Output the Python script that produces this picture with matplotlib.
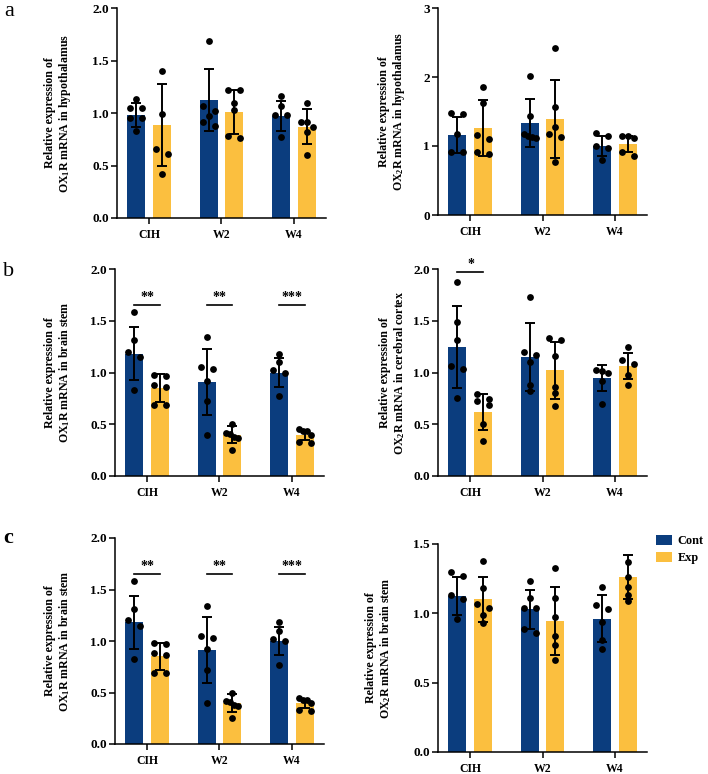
import numpy as np
import matplotlib
matplotlib.use("Agg")
import matplotlib.pyplot as plt
from matplotlib.patches import Patch

plt.rcParams['font.family'] = ['Liberation Serif', 'DejaVu Serif']
plt.rcParams['font.weight'] = 'bold'
plt.rcParams['mathtext.fontset'] = 'custom'
plt.rcParams['mathtext.rm'] = 'Liberation Serif:bold'
plt.rcParams['mathtext.it'] = 'Liberation Serif:bold'
plt.rcParams['mathtext.bf'] = 'Liberation Serif:bold'

categories = ["CIH", "W2", "W4"]
groups = ["Cont", "Exp"]
BLUE = "#0B3D7E"
YELLOW = "#FBBF3F"

# ---- panel a (left): OX1R hypothalamus
a1_cont_mean = [0.98, 1.12, 0.97]
a1_cont_sd = [0.115, 0.295, 0.14]
a1_exp_mean = [0.89, 1.01, 0.87]
a1_exp_sd = [0.39, 0.21, 0.165]
a1_cont_pts = [[1.13, 1.05, 1.05, 0.95, 0.95, 0.83],
               [1.69, 1.07, 1.02, 0.97, 0.91, 0.88],
               [1.16, 1.07, 0.98, 0.98, 0.77]]
a1_exp_pts = [[1.40, 0.99, 0.66, 0.61, 0.42],
              [1.22, 1.22, 1.10, 1.03, 0.78, 0.76],
              [1.10, 0.91, 0.91, 0.87, 0.82, 0.60]]

# ---- panel a (right): OX2R hypothalamus
a2_cont_mean = [1.16, 1.33, 1.00]
a2_cont_sd = [0.26, 0.35, 0.15]
a2_exp_mean = [1.26, 1.39, 1.03]
a2_exp_sd = [0.40, 0.57, 0.11]
a2_cont_pts = [[1.48, 1.47, 1.17, 0.92, 0.92],
               [2.01, 1.44, 1.18, 1.14, 1.13, 1.12],
               [1.19, 1.14, 1.00, 0.97, 0.79]]
a2_exp_pts = [[1.86, 1.63, 1.16, 1.10, 0.92, 0.89],
              [2.42, 1.57, 1.28, 1.18, 1.13, 0.77],
              [1.15, 1.14, 1.12, 0.92, 0.85]]

# ---- panel b/c (left): OX1R brain stem
b1_cont_mean = [1.18, 0.91, 1.00]
b1_cont_sd = [0.255, 0.32, 0.14]
b1_exp_mean = [0.85, 0.40, 0.395]
b1_exp_sd = [0.135, 0.085, 0.045]
b1_cont_pts = [[1.58, 1.31, 1.20, 1.15, 0.83],
               [1.34, 1.05, 1.03, 0.92, 0.72, 0.40],
               [1.18, 1.10, 1.02, 1.00, 0.77]]
b1_exp_pts = [[0.98, 0.97, 0.88, 0.86, 0.69, 0.69],
              [0.50, 0.42, 0.41, 0.38, 0.37, 0.25],
              [0.45, 0.43, 0.43, 0.40, 0.33, 0.32]]
b1_sig = ["**", "**", "***"]

# ---- panel b (right): OX2R cerebral cortex
b2_cont_mean = [1.25, 1.15, 0.945]
b2_cont_sd = [0.395, 0.325, 0.125]
b2_exp_mean = [0.62, 1.02, 1.06]
b2_exp_sd = [0.175, 0.275, 0.125]
b2_cont_pts = [[1.87, 1.49, 1.31, 1.06, 1.03, 0.75],
               [1.73, 1.20, 1.17, 1.10, 0.88, 0.82],
               [1.02, 1.01, 1.00, 0.92, 0.70]]
b2_exp_pts = [[0.79, 0.74, 0.72, 0.69, 0.50, 0.34],
              [1.33, 1.31, 1.16, 0.86, 0.80, 0.68],
              [1.25, 1.12, 1.08, 0.98, 0.88]]
b2_sig = ["*", "", ""]

# ---- panel c (right): OX2R brain stem
c2_cont_mean = [1.125, 1.03, 0.96]
c2_cont_sd = [0.14, 0.14, 0.17]
c2_exp_mean = [1.10, 0.945, 1.26]
c2_exp_sd = [0.16, 0.245, 0.16]
c2_cont_pts = [[1.30, 1.27, 1.13, 1.10, 0.96],
               [1.23, 1.11, 1.04, 1.04, 0.89, 0.86],
               [1.19, 1.06, 1.03, 0.94, 0.81, 0.74]]
c2_exp_pts = [[1.38, 1.18, 1.07, 1.04, 0.99, 0.93],
              [1.33, 1.11, 0.97, 0.84, 0.77, 0.66],
              [1.37, 1.26, 1.19, 1.13, 1.09]]

W, H = 708, 774
fig = plt.figure(figsize=(W / 100, H / 100), dpi=100)

BW = 0.25
OFF = 0.18
XL = (-0.45, 2.45)


def swarm(vals, ylim_rng, ax_h_px, ax_w_px):
    """Row-based symmetric spread of points (GraphPad-like)."""
    px_per_y = ax_h_px / ylim_rng
    px_per_x = ax_w_px / (XL[1] - XL[0])
    order = sorted(range(len(vals)), key=lambda i: -vals[i])
    rows = []
    for i in order:
        if rows and (vals[rows[-1][0]] - vals[i]) * px_per_y < 5.5:
            rows[-1].append(i)
        else:
            rows.append([i])
    offs = [0.0] * len(vals)
    for r in rows:
        n = len(r)
        if n > 1:
            o = np.linspace(-6, 6, n)
            for k, i in enumerate(r):
                offs[i] = o[k] / px_per_x
    return offs


def panel(rect_px, ylim, yticks, yfmt, ylabel, lab_px, cm, cs, em, es, cp, ep,
          sig=None, sig_y=None):
    x0, ytop, x1, ybot = rect_px
    ax = fig.add_axes([x0 / W, 1 - ybot / H, (x1 - x0) / W, (ybot - ytop) / H])
    x = np.arange(len(categories))
    ax.bar(x - OFF, cm, BW, color=BLUE, zorder=1)
    ax.bar(x + OFF, em, BW, color=YELLOW, zorder=1)
    ax.errorbar(x - OFF, cm, yerr=cs, fmt='none', ecolor='black', elinewidth=1.4,
                capsize=3.6, capthick=1.4, zorder=2)
    ax.errorbar(x + OFF, em, yerr=es, fmt='none', ecolor='black', elinewidth=1.4,
                capsize=3.6, capthick=1.4, zorder=2)
    ax_h = ybot - ytop
    ax_w = x1 - x0
    for pts, sign in ((cp, -1), (ep, 1)):
        for j, vals in enumerate(pts):
            offs = swarm(vals, ylim[1] - ylim[0], ax_h, ax_w)
            ax.scatter([j + sign * OFF + o for o in offs], vals, s=24, color='black',
                       zorder=3, linewidths=0, clip_on=False)
    ax.set_xlim(*XL)
    ax.set_ylim(*ylim)
    ax.set_yticks(yticks)
    ax.set_yticklabels([yfmt.format(t) for t in yticks], fontsize=9.5, fontweight='bold')
    ax.set_xticks(x)
    ax.set_xticklabels(categories, fontsize=8.5, fontweight='bold')
    for s in ('top', 'right'):
        ax.spines[s].set_visible(False)
    for s in ('left', 'bottom'):
        ax.spines[s].set_linewidth(1.1)
    ax.tick_params(axis='both', length=4, width=1.1, pad=2)
    ax.tick_params(axis='x', pad=4)
    ax.set_ylabel(ylabel, fontsize=8.6, fontweight='bold', linespacing=1.1)
    ax.yaxis.set_label_coords(-lab_px / ax_w, 0.5)
    if sig is not None:
        for j, st in enumerate(sig):
            if st:
                ax.plot([j - OFF, j + OFF], [sig_y, sig_y], color='black',
                        lw=1.2, clip_on=False)
                ax.text(j, sig_y + (ylim[1] - ylim[0]) * 0.005, st, ha='center', va='bottom',
                        fontsize=10, fontweight='bold', clip_on=False)
    return ax


lab1 = "Relative expression of\nOX$_1$R mRNA in {}"
lab2 = "Relative expression of\nOX$_2$R mRNA in {}"

panel((117, 8, 326, 218), (0, 2.0), [0, 0.5, 1.0, 1.5, 2.0], "{:.1f}",
      lab1.format("hypothalamus"), 44, a1_cont_mean, a1_cont_sd, a1_exp_mean, a1_exp_sd,
      a1_cont_pts, a1_exp_pts)
panel((438, 8, 647, 215), (0, 3), [0, 1, 2, 3], "{:.0f}",
      lab2.format("hypothalamus"), 31, a2_cont_mean, a2_cont_sd, a2_exp_mean, a2_exp_sd,
      a2_cont_pts, a2_exp_pts)
panel((115, 269, 324, 476), (0, 2.0), [0, 0.5, 1.0, 1.5, 2.0], "{:.1f}",
      lab1.format("brain stem"), 43, b1_cont_mean, b1_cont_sd, b1_exp_mean, b1_exp_sd,
      b1_cont_pts, b1_exp_pts, sig=b1_sig, sig_y=1.65)
panel((438, 269, 647, 476), (0, 2.0), [0, 0.5, 1.0, 1.5, 2.0], "{:.1f}",
      lab2.format("cerebral cortex"), 31, b2_cont_mean, b2_cont_sd, b2_exp_mean, b2_exp_sd,
      b2_cont_pts, b2_exp_pts, sig=b2_sig, sig_y=1.97)
panel((115, 538, 324, 744), (0, 2.0), [0, 0.5, 1.0, 1.5, 2.0], "{:.1f}",
      lab1.format("brain stem"), 43, b1_cont_mean, b1_cont_sd, b1_exp_mean, b1_exp_sd,
      b1_cont_pts, b1_exp_pts, sig=b1_sig, sig_y=1.65)
panel((438, 544, 647, 752), (0, 1.5), [0, 0.5, 1.0, 1.5], "{:.1f}",
      lab2.format("brain stem"), 45, c2_cont_mean, c2_cont_sd, c2_exp_mean, c2_exp_sd,
      c2_cont_pts, c2_exp_pts)

# panel letters
fig.text(4 / W, 1 - 2 / H, "a", fontsize=16, fontweight='normal', va='top', ha='left')
fig.text(3 / W, 1 - 262 / H, "b", fontsize=16, fontweight='normal', va='top', ha='left')
fig.text(3 / W, 1 - 528 / H, "c", fontsize=16, fontweight='bold', va='top', ha='left')

handles = [Patch(facecolor=BLUE, edgecolor='none'), Patch(facecolor=YELLOW, edgecolor='none')]
fig.legend(handles, groups, loc='upper left', bbox_to_anchor=(654 / W, 1 - 533 / H),
           frameon=False, handlelength=1.35, handleheight=0.85,
           handletextpad=0.45, labelspacing=0.4, borderaxespad=0, borderpad=0.15,
           prop={'weight': 'bold', 'size': 8.8})

fig.savefig("out.png", dpi=100)
